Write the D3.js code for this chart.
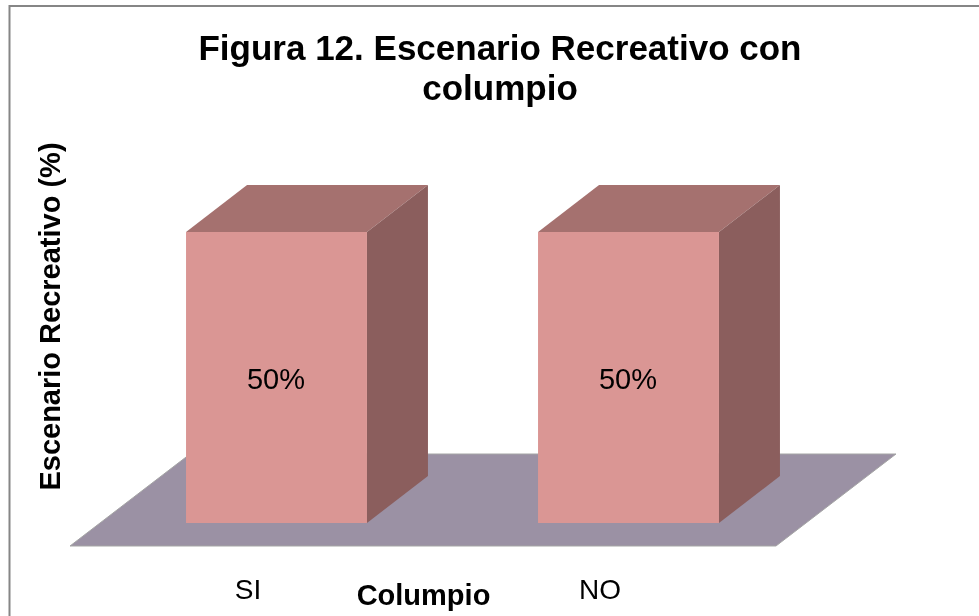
<!DOCTYPE html>
<html><head><meta charset="utf-8">
<script src="https://cdn.jsdelivr.net/npm/d3@7/dist/d3.min.js"></script>
<style>html,body{margin:0;padding:0;background:#fff}svg{display:block;filter:blur(0.35px)}text{font-family:"Liberation Sans",Arial,sans-serif;fill:#000}</style>
</head><body><svg id="c" width="979" height="616"></svg>
<script>
const categories = ["SI", "NO"];
const values = [50, 50];
const valueLabels = ["50%", "50%"];
const titleLines = ["Figura 12. Escenario Recreativo con", "columpio"];
const xTitle = "Columpio";
const yTitle = "Escenario Recreativo (%)";

const svg = d3.select("#c");
const x = d3.scaleBand().domain(categories).range([100.5, 804.5]).paddingInner(0.486).paddingOuter(0.243);
const y = d3.scaleLinear().domain([0, 50]).range([523, 232]);
const depth = {dx: 61, dy: -47};
const line = d3.line();

svg.append("path").attr("d", "M9.5,616V6H979").attr("fill", "none").attr("stroke", "#868686").attr("stroke-width", 2);

const floorBack = 454, floorFront = 546;
svg.append("path").attr("d", line([[70, floorFront], [776, floorFront], [896, floorBack], [190, floorBack]]) + "Z")
  .attr("fill", "#9b91a4").attr("stroke", "#a5a5a5").attr("stroke-width", 1);

const bars = svg.selectAll("g.bar").data(categories).join("g").attr("class", "bar");
bars.append("path").attr("fill", "#a5716f").attr("d", (c, i) => {
  const l = x(c), r = l + x.bandwidth(), t = y(values[i]);
  return line([[l, t], [r, t], [r + depth.dx, t + depth.dy], [l + depth.dx, t + depth.dy]]) + "Z";
});
bars.append("path").attr("fill", "#8b5e5d").attr("d", (c, i) => {
  const r = x(c) + x.bandwidth(), t = y(values[i]), b = y(0);
  return line([[r, t], [r + depth.dx, t + depth.dy], [r + depth.dx, b + depth.dy], [r, b]]) + "Z";
});
bars.append("rect").attr("fill", "#da9694")
  .attr("x", c => x(c)).attr("width", x.bandwidth())
  .attr("y", (c, i) => y(values[i])).attr("height", (c, i) => y(0) - y(values[i]));
bars.append("text").attr("text-anchor", "middle").attr("font-size", 29)
  .attr("x", c => x(c) + x.bandwidth() / 2 - 0.5).attr("y", 389).text((c, i) => valueLabels[i]);

svg.selectAll("text.cat").data(categories).join("text").attr("class", "cat")
  .attr("text-anchor", "middle").attr("font-size", 28)
  .attr("x", c => x(c) + x.bandwidth() / 2 - 28.5).attr("y", 599).text(c => c);

svg.selectAll("text.title").data(titleLines).join("text").attr("class", "title")
  .attr("text-anchor", "middle").attr("font-size", 35).attr("font-weight", "bold")
  .attr("x", 500).attr("y", (d, i) => 59.5 + i * 40).text(d => d);
svg.append("text").attr("text-anchor", "middle").attr("font-size", 29).attr("font-weight", "bold")
  .attr("x", 423.5).attr("y", 605).text(xTitle);
svg.append("text").attr("text-anchor", "middle").attr("font-size", 29).attr("font-weight", "bold")
  .attr("transform", "translate(60,316.5) rotate(-90)").text(yTitle);
</script></body></html>
